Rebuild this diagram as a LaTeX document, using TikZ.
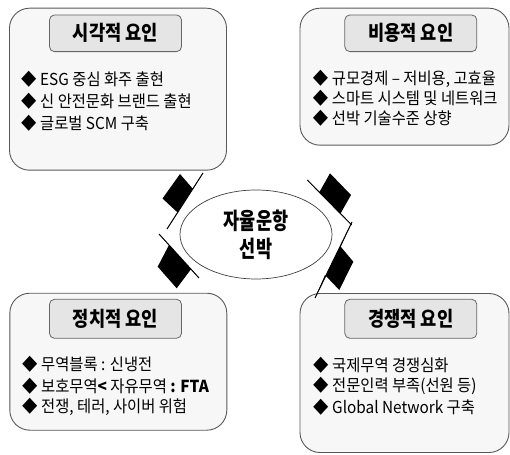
\documentclass[tikz,border=0pt]{standalone}
\usepackage{fontspec}
\usetikzlibrary{shapes.geometric}
\newfontfamily\kr{Noto Sans CJK KR}[FakeStretch=0.93]
\newfontfamily\krt{Noto Sans CJK KR}[FakeStretch=0.86]
\newfontfamily\krc{Noto Sans CJK KR}[FakeStretch=0.76]
\newcommand\bl{\makebox[19pt][l]{◆}}
\begin{document}
\begin{tikzpicture}[x=1pt,y=-1pt,
  bigbox/.style={draw=black!65, fill=black!3, rounded corners=20pt, line width=0.9pt, inner sep=0},
  titlebox/.style={draw=black!60, fill=black!10, rounded corners=5pt, line width=0.8pt,
    minimum width=132pt, inner sep=0, font=\krt\bfseries\fontsize{20.5}{20.5}\selectfont},
  item/.style={anchor=west, inner sep=0, font=\kr\fontsize{16.5}{16.5}\selectfont},
  hub/.style={ellipse, draw=black!75, fill=white, line width=0.7pt, minimum width=152pt,
    minimum height=89pt, inner sep=0, align=center, font=\krc\bfseries\fontsize{23}{28}\selectfont},
  spike/.style={draw=black, line width=1pt}]
\useasboundingbox (0,0) rectangle (510,454);

% outer boxes
\node[bigbox, minimum width=217pt, minimum height=162pt] (tl) at (118,89.2) {};
\node[bigbox, minimum width=209pt, minimum height=137pt] (tr) at (404.5,76.7) {};
\node[bigbox, minimum width=217pt, minimum height=137pt] (bl) at (118.3,361.7) {};
\node[bigbox, minimum width=209pt, minimum height=159pt] (br) at (404.5,373) {};

% titles
\node[titlebox, minimum height=36.7pt] (tlt) at (115.5,33.3) {시각적 요인};
\node[titlebox, minimum height=36.7pt] (trt) at (410.8,33.3) {비용적 요인};
\node[titlebox, minimum height=39pt] (blt) at (115.5,318.8) {정치적 요인};
\node[titlebox, minimum height=39pt] (brt) at (410.8,318.8) {경쟁적 요인};

% items top-left
\node[item] (tl1) at (21,79) {\bl ESG 중심 화주 출현};
\node[item] (tl2) at (21,101) {\bl 신 안전문화 브랜드 출현};
\node[item] (tl3) at (21,123) {\bl 글로벌 SCM 구축};
% items top-right
\node[item] (tr1) at (312.7,79) {\bl 규모경제 – 저비용, 고효율};
\node[item] (tr2) at (312.7,98.5) {\bl 스마트 시스템 및 네트워크};
\node[item] (tr3) at (312.7,118) {\bl 선박 기술수준 상향};
% items bottom-left
\node[item] (bl1) at (22,364) {\bl 무역블록 : 신냉전};
\node[item] (bl2) at (22,386) {\bl 보호무역{\bfseries<} 자유무역 {\bfseries: FTA}};
\node[item] (bl3) at (22,407) {\bl 전쟁, 테러, 사이버 위험};
% items bottom-right
\node[item] (br1) at (313,365) {\bl 국제무역 경쟁심화};
\node[item] (br2) at (313,386) {\bl 전문인력 부족(선원 등)};
\node[item] (br3) at (313,407) {\bl Global Network 구축};

% centre
\node[hub] (hub) at (256,234.5) {자율운항\\선박};

% diamond pointers
\fill (203,173) -- (193,189) -- (180,174) -- (162.5,198.5) -- (177.6,212.5) -- (167,229) -- cycle;
\draw[spike] (203,173) -- (167,229);

\fill (159,234) -- (169,245) -- (157.7,266.7) -- (176.7,288.3) -- (191,269.2) -- (199,278) -- cycle;
\draw[spike] (159,234) -- (199,278);

\fill (307.3,180) -- (319.3,192.2) -- (330,173.3) -- (351,195) -- (340.5,213.5) -- (351.7,225) -- cycle;
\draw[spike] (307.3,180) -- (351.7,225);

\fill (352,222) -- (340.7,246.7) -- (353.3,261.7) -- (339.3,290) -- (325,275) -- (315,298) -- cycle;
\draw[spike] (352,222) -- (315,298);
\end{tikzpicture}
\end{document}
